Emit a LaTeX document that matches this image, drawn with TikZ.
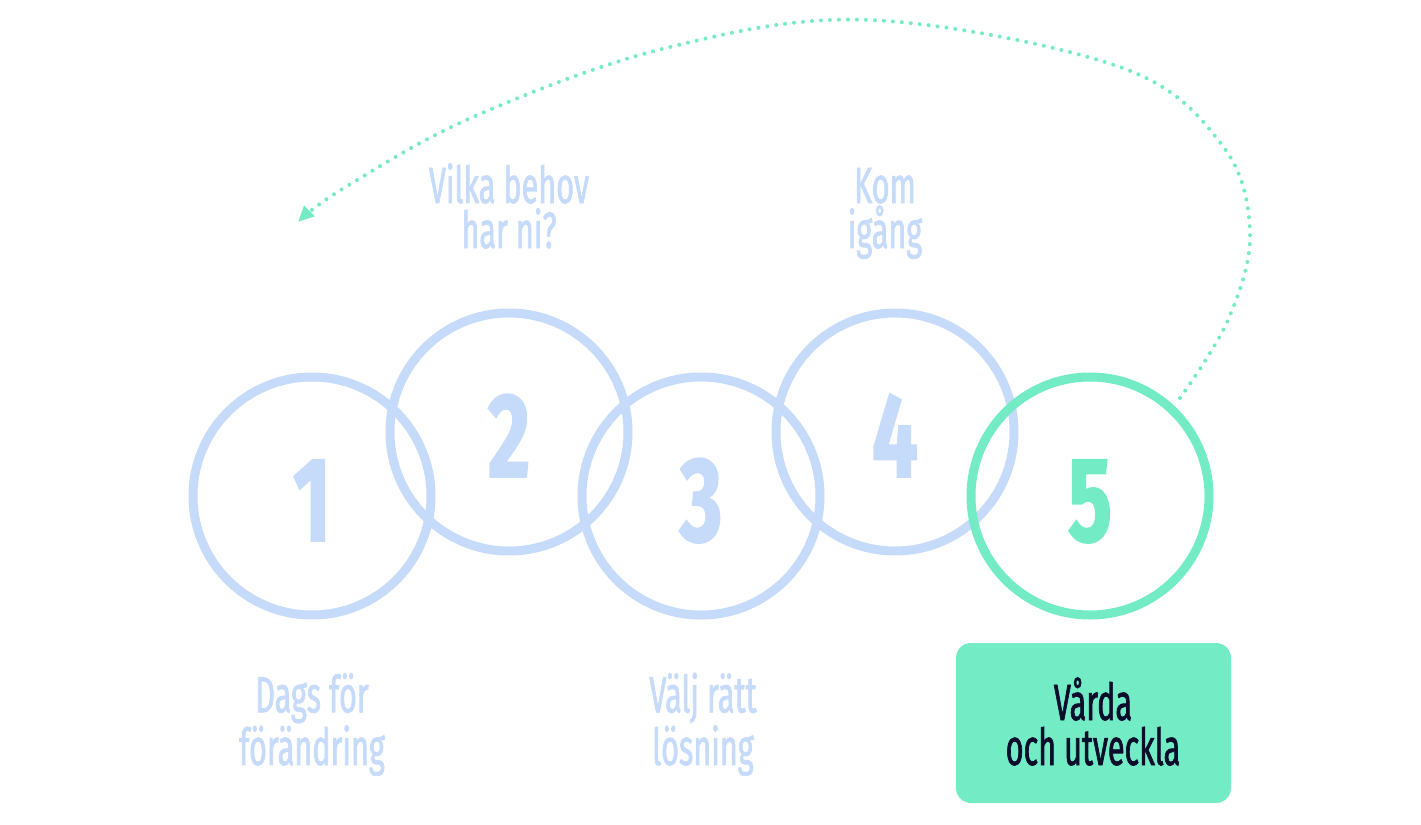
\documentclass[tikz,border=0pt]{standalone}
\usepackage{fontspec}
\usetikzlibrary{arrows.meta}
\newfontfamily\labfont[FakeStretch=0.6,FakeBold=1.3]{Fira Sans}
\newfontfamily\digfont[FakeStretch=0.68,FakeBold=1.5]{Fira Sans}
\definecolor{lblue}{HTML}{C6DAFA}
\definecolor{mint}{HTML}{73ECC5}
\definecolor{navy}{HTML}{0B0D2B}
\begin{document}
\begin{tikzpicture}[x=0.5pt,y=-0.5pt,
  lab/.style={text=lblue,font=\labfont\fontsize{25.5pt}{22.5pt}\selectfont,align=center,anchor=base,inner sep=0pt},
  dig/.style={text=lblue,font=\digfont\bfseries\fontsize{60pt}{60pt}\selectfont,inner sep=0pt,anchor=base}]
\useasboundingbox (0,0) rectangle (1421,825);
% rings
\foreach \n/\x/\y in {1/312/496,2/509/432,3/701/496,4/895/432}{
  \draw[lblue,line width=4.5pt] (\x,\y) circle[radius=59.5pt];
  \coordinate (c\n) at (\x,\y);
}
\draw[mint,line width=4.5pt] (1090,496) circle[radius=59.5pt];
\coordinate (c5) at (1090,496);
% digits
\node[dig] (d1) at (312,541) {1};
\node[dig] (d2) at (509,477) {2};
\node[dig] (d3) at (701,541) {3};
\node[dig] (d4) at (895,477) {4};
\node[dig,text=mint] (d5) at (1090,541) {5};
% labels (base = last line)
\node[lab] (l2) at (509,248) {Vilka behov\\har ni?};
\node[lab] (l4) at (885,248) {Kom\\igång};
\node[lab] (l1) at (312,765) {Dags för\\förändring};
\node[lab] (l3) at (703,765) {Välj rätt\\lösning};
% box
\fill[mint,rounded corners=7.5pt] (956,643) rectangle (1231,803);
\node[lab,text=navy] (l5) at (1093,765) {Vårda\\och utveckla};
% dotted return arrow
\coordinate (s) at (1180,398);
\coordinate (e) at (298,222);
\draw[mint,line width=2pt,line cap=round,dash pattern=on 0pt off 4.5pt,
  -{Triangle[length=8pt,width=7pt]}]
  plot[smooth,tension=0.6] coordinates {(s) (1228,320) (1250,233) (1222,145) (1120,67) (870,20) (666,48) (473,117) (344,188) (e)};
\end{tikzpicture}
\end{document}
